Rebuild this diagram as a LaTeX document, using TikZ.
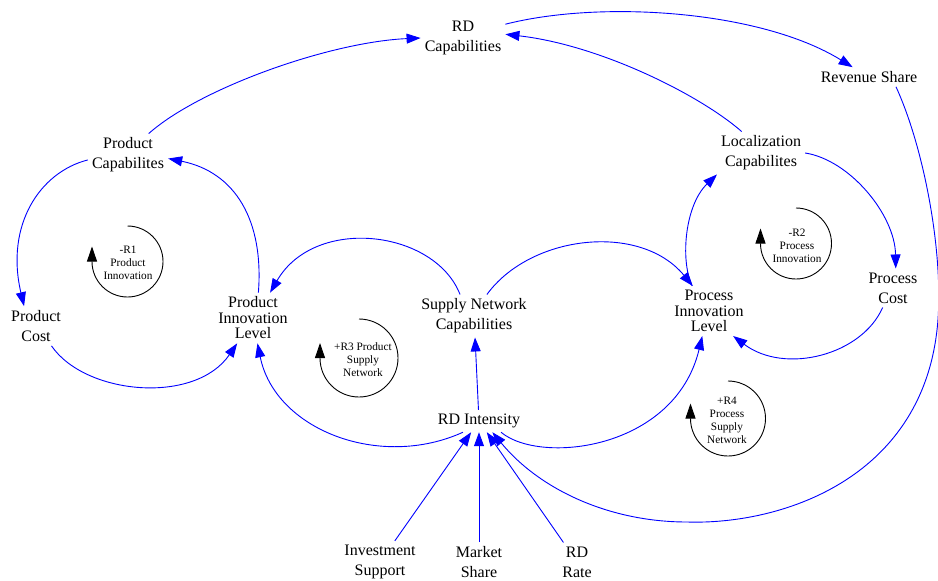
\documentclass[tikz,border=0pt]{standalone}
\usepackage{fontspec}
\setmainfont{Liberation Serif}
\usepackage{tikz}
\usetikzlibrary{arrows.meta,positioning,calc}

\begin{document}
\begin{tikzpicture}[x=1pt, y=-1pt]
  % Define styles
  \tikzstyle{varnode} = [align=center, inner sep=4pt, font=\fontsize{16}{20}\selectfont]
  \tikzstyle{tightlines} = [font=\fontsize{16}{15.5}\selectfont]
  \tikzstyle{looplabel} = [align=center, inner sep=1pt, font=\fontsize{11.3}{13}\selectfont]
  \tikzstyle{link} = [blue, line width=0.9pt, -{Triangle[length=14pt,width=10pt]}]
  \tikzstyle{loopsym} = [black, line width=0.9pt, -{Triangle[length=15pt,width=10pt]}]

  \useasboundingbox (0,0) rectangle (938,581);

  % Variables
  \node [varnode] (rdcap) at (463,38) {RD\\Capabilities};
  \node [varnode] (revshare) at (869,77) {Revenue Share};
  \node [varnode] (prodcap) at (128,155) {Product\\Capabilites};
  \node [varnode] (loccap) at (761,153) {Localization\\Capabilites};
  \node [varnode] (prodcost) at (36,326) {Product\\Cost};
  \node [varnode, tightlines] (prodinno) at (253,318) {Product\\Innovation\\Level};
  \node [varnode] (snc) at (474,316) {Supply Network\\Capabilities};
  \node [varnode, tightlines] (procinno) at (709,311) {Process\\Innovation\\Level};
  \node [varnode] (proccost) at (893,288) {Process\\Cost};
  \node [varnode] (rdint) at (479,421) {RD Intensity};
  \node [varnode] (invsup) at (380,562) {Investment\\Support};
  \node [varnode] (mktshare) at (479,562) {Market\\Share};
  \node [varnode] (rdrate) at (577,562) {RD\\Rate};

  % Loop labels
  \node [looplabel] (r1) at (128,263) {-R1\\Product\\Innovation};
  \node [looplabel] (r2) at (797,246) {-R2\\Process\\Innovation};
  \node [looplabel] (r3) at (363,360) {+R3 Product\\Supply\\Network};
  \node [looplabel] (r4) at (727,420) {+R4\\Process\\Supply\\Network};

  % Loop symbols
  \draw [loopsym] (127.5,226) arc[start angle=270, end angle=540, radius=35.5] -- ++(0,-15);
  \draw [loopsym] (796,208) arc[start angle=270, end angle=540, radius=35.5] -- ++(0,-15);
  \draw [loopsym] (359,319) arc[start angle=270, end angle=540, radius=39] -- ++(0,-15);
  \draw [loopsym] (728,381) arc[start angle=270, end angle=540, radius=37.5] -- ++(0,-15);

  % Links
  \coordinate (rimright) at (937,330);
  \coordinate (rimbottom) at (687,522);
  \draw [link] (prodcap.46) .. controls (200,88) and (330,42) .. (rdcap.west);
  \draw [link] (loccap.132) .. controls (700,95) and (600,45) .. (rdcap.5);
  \draw [link] (rdcap.18) .. controls (600,0) and (760,10) .. (revshare.149);
  \draw [link] (revshare.-20) .. controls (925,150) and (945,260) .. (rimright)
    .. controls (920,480) and (780,525) .. (rimbottom)
    .. controls (610,522) and (540,490) .. (rdint.-40);
  \draw [link] (prodcap.187) .. controls (40,172) and (5,225) .. (prodcost.121);
  \draw [link] (prodcost.-52) .. controls (85,395) and (195,405) .. (prodinno.238);
  \draw [link] (prodinno.78) .. controls (264,220) and (235,172) .. (prodcap.-5);
  \draw [link] (snc.123) .. controls (435,230) and (315,215) .. (prodinno.56);
  \draw [link] (snc.59) .. controls (530,235) and (640,222) .. (procinno.123);
  \draw [link] (rdint) -- (snc);
  \draw [link] (rdint.215) .. controls (380,470) and (275,430) .. (prodinno.-80);
  \draw [link] (rdint.-27) .. controls (540,465) and (675,450) .. (procinno.-105);
  \draw [link] (procinno.124) .. controls (680,260) and (685,205) .. (loccap.206);
  \draw [link] (loccap.east) .. controls (850,160) and (895,215) .. (proccost.82);
  \draw [link] (proccost.242) .. controls (862,355) and (785,375) .. (procinno.-46);
  \draw [link] (invsup) -- (rdint);
  \draw [link] (mktshare) -- (rdint);
  \draw [link] (rdrate) -- (rdint);

\end{tikzpicture}
\end{document}
